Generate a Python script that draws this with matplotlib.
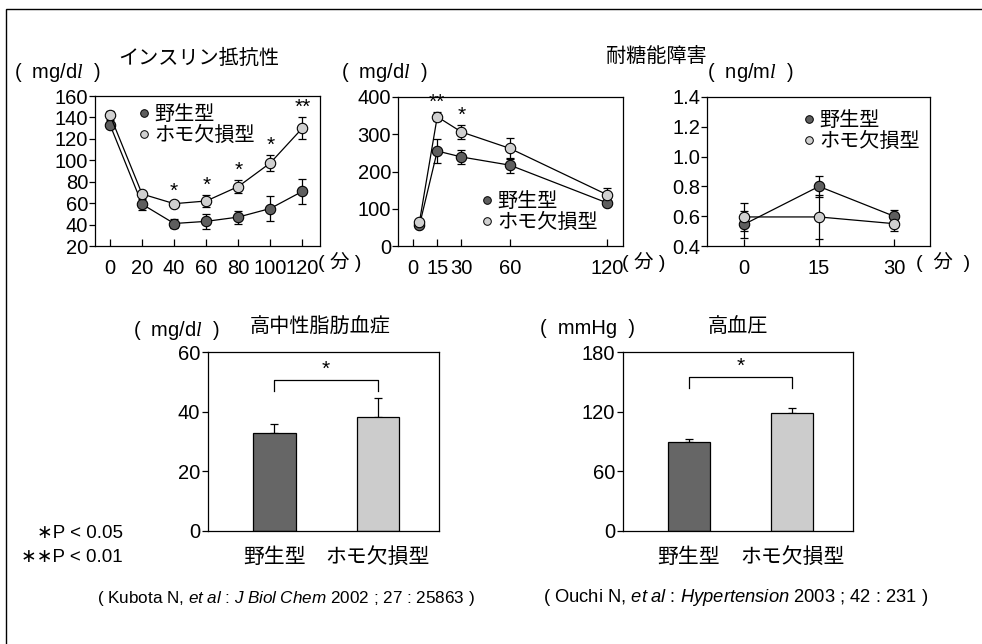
import numpy as np
import matplotlib
matplotlib.use('Agg')
import matplotlib.pyplot as plt
from matplotlib.lines import Line2D
from matplotlib.patches import Rectangle

plt.rcParams['font.family'] = ['Liberation Sans', 'Noto Sans CJK JP', 'DejaVu Sans']
plt.rcParams['mathtext.fontset'] = 'custom'
plt.rcParams['mathtext.rm'] = 'Liberation Sans'
plt.rcParams['mathtext.it'] = 'Liberation Serif:italic'
plt.rcParams['mathtext.sf'] = 'Liberation Sans:italic'

W, H = 982, 644

# ---- data ----
groups = ['野生型', 'ホモ欠損型']

ins_time = [0, 20, 40, 60, 80, 100, 120]
ins_wt = [133, 59, 41, 43, 47, 55, 71]
ins_wt_err = [3, 5, 4, 7, 6, 11.5, 11.5]
ins_ko = [142, 68.5, 59.5, 62, 75.5, 97.5, 130]
ins_ko_err = [4, 2, 2, 5.5, 6, 7.5, 10.5]
ins_stars = ['', '', '*', '*', '*', '*', '**']

glu_time = [4, 15, 30, 60, 120]
glu_ticks = [0, 15, 30, 60, 120]
glu_wt = [56, 255, 239, 217, 116]
glu_wt_err = [4, 32, 20, 20, 4]
glu_ko = [65, 347, 306, 262, 138]
glu_ko_err = [4, 12, 18, 28, 18]
glu_stars = ['', '**', '*', '', '']

sec_time = [0, 15, 30]
sec_wt = [0.545, 0.80, 0.60]
sec_wt_err = [0.09, 0.07, 0.04]
sec_ko = [0.595, 0.595, 0.55]
sec_ko_err = [0.095, 0.145, 0.05]

tg_mean = [33.0, 38.2]
tg_err = [2.7, 6.3]
tg_bracket = [47.0, 50.6]
bp_mean = [89, 119]
bp_err = [4, 4.7]
bp_bracket = [143.5, 154.6]

DARK = '#5e5e5e'
LIGHT = '#d0d0d0'
BAR_DARK = '#666666'
BAR_LIGHT = '#cccccc'
FS = 14.5

fig = plt.figure(figsize=(W / 100, H / 100), dpi=100)


def px_axes(x0, y0, x1, y1):
    return fig.add_axes([x0 / W, 1 - y1 / H, (x1 - x0) / W, (y1 - y0) / H])


def ftext(x, y, s, **kw):
    kw.setdefault('ha', 'center')
    kw.setdefault('va', 'center')
    kw.setdefault('fontsize', FS)
    fig.text(x / W, 1 - y / H, s, **kw)


def line_panel(ax, t, wt, wte, ko, koe, stars=None):
    for vals, err, fc in [(wt, wte, DARK), (ko, koe, LIGHT)]:
        ax.errorbar(t, vals, yerr=err, fmt='none', ecolor='k', elinewidth=0.9,
                    capsize=3, capthick=0.9, zorder=2)
        ax.plot(t, vals, '-o', color='k', lw=0.9, mfc=fc, mec='k', mew=0.8,
                ms=7.5, zorder=3)
    if stars:
        for i, s in enumerate(stars):
            if s:
                ax.annotate(s, (t[i], ko[i] + koe[i]), xytext=(0, 7),
                            textcoords='offset points', ha='center', va='center',
                            fontsize=15)
    ax.tick_params(axis='x', direction='in', length=5, width=0.9, pad=9, labelsize=FS)
    ax.tick_params(axis='y', direction='out', length=4, width=0.9, pad=1, labelsize=FS)
    for sp in ax.spines.values():
        sp.set_linewidth(0.9)


def add_legend(ax, anchor):
    handles = [Line2D([], [], ls='none', marker='o', ms=5.5, mfc=c, mec='k', mew=0.7)
               for c in (DARK, LIGHT)]
    ax.legend(handles, groups, loc='upper left', bbox_to_anchor=anchor, frameon=False,
              fontsize=14.5, handlelength=0.6, handletextpad=0.2, labelspacing=0.1,
              borderaxespad=0, borderpad=0)


# ---- panel 1: insulin resistance ----
ax1 = px_axes(95, 96, 320, 246)
line_panel(ax1, ins_time, ins_wt, ins_wt_err, ins_ko, ins_ko_err, ins_stars)
ax1.set_xlim(-9.4, 131)
ax1.set_ylim(20, 160)
ax1.set_xticks(ins_time)
ax1.set_yticks(np.arange(20, 161, 20))
add_legend(ax1, (0.19, 0.94))

# ---- panel 2: glucose ----
ax2 = px_axes(398, 97, 623, 246)
line_panel(ax2, glu_time, glu_wt, glu_wt_err, glu_ko, glu_ko_err, glu_stars)
ax2.set_xlim(-9.3, 130)
ax2.set_ylim(0, 400)
ax2.set_xticks(glu_ticks)
ax2.set_yticks([0, 100, 200, 300, 400])
add_legend(ax2, (0.37, 0.36))

# ---- panel 3: insulin secretion ----
ax3 = px_axes(707, 97, 930, 246)
line_panel(ax3, sec_time, sec_wt, sec_wt_err, sec_ko, sec_ko_err)
ax3.set_xlim(-7.4, 37.2)
ax3.set_ylim(0.4, 1.4)
ax3.set_xticks(sec_time)
ax3.set_yticks(np.round(np.arange(0.4, 1.41, 0.2), 1))
ax3.yaxis.set_major_formatter(matplotlib.ticker.FormatStrFormatter('%.1f'))
add_legend(ax3, (0.43, 0.905))


# ---- bar panels ----
def bar_panel(ax, mean, err, bracket, ylim, yticks):
    x = np.arange(len(mean))
    ax.bar(x, mean, width=0.41, color=[BAR_DARK, BAR_LIGHT], edgecolor='k',
           linewidth=0.9, zorder=2)
    ax.errorbar(x, mean, yerr=[[0] * len(err), err], fmt='none', ecolor='k',
                elinewidth=0.9, capsize=3, capthick=0.9, zorder=1)
    ax.plot([0, 0, 1, 1], [bracket[0], bracket[1], bracket[1], bracket[0]],
            color='k', lw=0.9)
    ax.annotate('*', (0.5, bracket[1]), xytext=(0, 8), textcoords='offset points',
                ha='center', va='center', fontsize=15)
    ax.set_xlim(-0.64, 1.59)
    ax.set_ylim(*ylim)
    ax.set_yticks(yticks)
    ax.set_xticks(x)
    ax.set_xticklabels(groups)
    ax.tick_params(axis='x', length=0, pad=12, labelsize=15)
    ax.tick_params(axis='y', direction='out', length=4, width=0.9, pad=1.5, labelsize=FS)
    for sp in ax.spines.values():
        sp.set_linewidth(0.9)


ax4 = px_axes(208, 352, 439, 531)
bar_panel(ax4, tg_mean, tg_err, tg_bracket, (0, 60), [0, 20, 40, 60])

ax5 = px_axes(623, 352, 853, 531)
bar_panel(ax5, bp_mean, bp_err, bp_bracket, (0, 180), [0, 60, 120, 180])

# ---- texts ----
unit_fs = 14.5
ftext(199, 58, 'インスリン抵抗性', fontsize=14.5)
ftext(57, 73, '(  mg/d$\\mathit{l}$  )', fontsize=unit_fs)
ftext(384, 72, '(  mg/d$\\mathit{l}$  )', fontsize=unit_fs)
ftext(656, 56, '耐糖能障害', fontsize=14.5)
ftext(750, 72, '(  ng/m$\\mathit{l}$  )', fontsize=unit_fs)
ftext(318, 262, '( 分 )', ha='left', fontsize=14)
ftext(622, 262, '( 分 )', ha='left', fontsize=14)
ftext(916, 262, '(  分  )', ha='left', fontsize=14)

ftext(320, 327, '高中性脂肪血症', fontsize=14.5)
ftext(176, 331, '(  mg/d$\\mathit{l}$  )', fontsize=unit_fs)
ftext(738, 327, '高血圧', fontsize=14.5)
ftext(587, 328, '(  mmHg  )', fontsize=unit_fs)

ftext(123, 533, '∗P < 0.05', ha='right', fontsize=13.5)
ftext(123, 557, '∗∗P < 0.01', ha='right', fontsize=13.5)

ftext(97, 598, '( Kubota N, $\\mathsf{et\\ al}$ : $\\mathsf{J\\ Biol\\ Chem}$ 2002 ; 27 : 25863 )',
      ha='left', fontsize=12.3)
ftext(543, 598, '( Ouchi N, $\\mathsf{et\\ al}$ : $\\mathsf{Hypertension}$ 2003 ; 42 : 231 )',
      ha='left', fontsize=13.2)

# outer frame (only left and top edges fall inside the image)
fig.add_artist(Rectangle((6 / W, -0.1), 1.2, 1 - 9 / H + 0.1, transform=fig.transFigure,
                         fill=False, lw=1, ec='k'))

fig.savefig('out.png', dpi=100)
